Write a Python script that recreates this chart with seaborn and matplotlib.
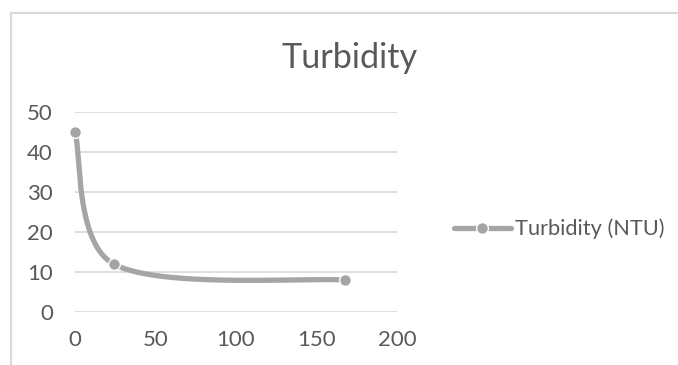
import numpy as np
import pandas as pd
import matplotlib
matplotlib.use("Agg")
import matplotlib.pyplot as plt
import seaborn as sns
from matplotlib.patches import Rectangle
from matplotlib.lines import Line2D

# ---- data ----
hours = [0, 24, 168]
turbidity = [45, 12, 8]
series_name = "Turbidity (NTU)"
chart_title = "Turbidity"
x_ticks = [0, 50, 100, 150, 200]
y_ticks = [0, 10, 20, 30, 40, 50]

LINE_COLOR = "#A5A5A5"
TEXT_COLOR = "#595959"
GRID_COLOR = "#D9D9D9"


def smooth_curve(xs, ys, n=80):
    """Excel-like Bezier smoothing through the data points."""
    P = np.column_stack([xs, ys]).astype(float)
    m = len(P)
    out = [P[0]]
    for i in range(m - 1):
        p0, p1 = P[i], P[i + 1]
        pm = P[i - 1] if i > 0 else P[i]
        pp = P[i + 2] if i + 2 < m else P[i + 1]
        d1 = (p1 - pm) / 6.0
        d2 = (pp - p0) / 6.0
        lo, hi = p0[0], p1[0]
        c1 = p0 + d1
        if d1[0] != 0 and not (lo <= c1[0] <= hi):
            lim = hi if c1[0] > hi else lo
            c1 = p0 + ((lim - p0[0]) / d1[0]) * d1
        c2 = p1 - d2
        if d2[0] != 0 and not (lo <= c2[0] <= hi):
            lim = lo if c2[0] < lo else hi
            c2 = p1 - ((p1[0] - lim) / d2[0]) * d2
        t = np.linspace(0, 1, n)[1:, None]
        B = ((1 - t) ** 3) * p0 + 3 * ((1 - t) ** 2) * t * c1 + 3 * (1 - t) * (t ** 2) * c2 + (t ** 3) * p1
        out.extend(B)
    return np.array(out)


sns.set_theme(style="white")
plt.rcParams["font.family"] = ["Lato", "DejaVu Sans"]

W, H = 678, 365
fig = plt.figure(figsize=(W / 100, H / 100), dpi=100)
ax = fig.add_axes([75 / W, 1 - 312 / H, (397 - 75) / W, (312 - 112) / H])

curve = smooth_curve(hours, turbidity)
df_curve = pd.DataFrame({"x": curve[:, 0], "y": curve[:, 1]})
sns.lineplot(data=df_curve, x="x", y="y", sort=False, estimator=None,
             color=LINE_COLOR, linewidth=3.8, ax=ax, zorder=3,
             solid_capstyle="round", legend=False)
for l in ax.lines:
    l.set_clip_on(False)

df_pts = pd.DataFrame({"x": hours, "y": turbidity})
sns.scatterplot(data=df_pts, x="x", y="y", s=72, color=LINE_COLOR,
                edgecolor="white", linewidth=1.0, ax=ax, zorder=4,
                clip_on=False, legend=False)

ax.set_xlim(x_ticks[0], x_ticks[-1])
ax.set_ylim(y_ticks[0], y_ticks[-1])
ax.set_xticks(x_ticks)
ax.set_yticks(y_ticks)
ax.set_xlabel("")
ax.set_ylabel("")
for s in ax.spines.values():
    s.set_visible(False)
ax.grid(False)
for yv in y_ticks:
    ax.axhline(yv, color=GRID_COLOR, linewidth=1.2, zorder=1)
ax.tick_params(axis="both", length=0, labelsize=16, colors=TEXT_COLOR)
ax.tick_params(axis="x", pad=13)
ax.tick_params(axis="y", pad=16)

fig.text(350 / W, 1 - 58 / H, chart_title, ha="center", va="center",
         fontsize=24.7, color=TEXT_COLOR)

handle = Line2D([], [], color=LINE_COLOR, linewidth=3.8, marker="o",
                markersize=8.5, markeredgecolor="white", markeredgewidth=1.0)
ax.legend([handle], [series_name], loc="center left",
          bbox_to_anchor=(454 / W, 1 - 229 / H), bbox_transform=fig.transFigure,
          frameon=False, borderpad=0, borderaxespad=0, handlelength=2.6,
          handletextpad=0.2, fontsize=15.7, labelcolor=TEXT_COLOR)

# outer chart border (top and left visible)
fig.patches.append(Rectangle((10.5 / W, -0.5), 2.0, (H - 12.5) / H + 0.5,
                             transform=fig.transFigure, fill=False,
                             edgecolor=GRID_COLOR, linewidth=1.5))

fig.savefig("out.png", dpi=100)
